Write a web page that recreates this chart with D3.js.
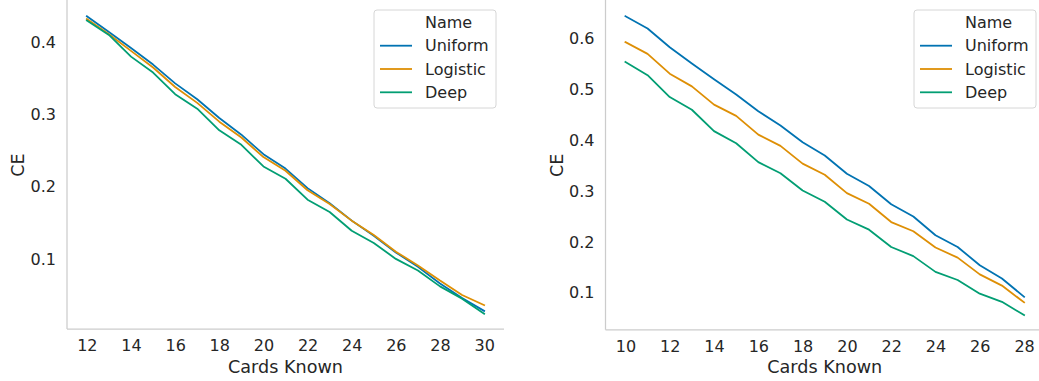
<!DOCTYPE html>
<html>
<head>
<meta charset="utf-8">
<script src="https://cdn.jsdelivr.net/npm/d3@7"></script>
<style>
  body { margin: 0; background: #fff; }
  text { font-family: "DejaVu Sans", sans-serif; fill: #262626; }
</style>
</head>
<body>
<svg id="chart" width="1039" height="381"></svg>
<script>
// --- data ---
const seriesNames = ["Uniform", "Logistic", "Deep"];
const colors = ["#0173b2", "#de8f05", "#029e73"];

// left panel
const leftCards = [12, 13, 14, 15, 16, 17, 18, 19, 20, 21, 22, 23, 24, 25, 26, 27, 28, 29, 30];
const leftUniform = [0.436, 0.414, 0.392, 0.369, 0.343, 0.321, 0.295, 0.272, 0.245, 0.225, 0.198, 0.177, 0.153, 0.132, 0.109, 0.089, 0.066, 0.046, 0.028];
const leftLogistic = [0.432, 0.411, 0.388, 0.365, 0.338, 0.316, 0.290, 0.268, 0.241, 0.222, 0.195, 0.176, 0.153, 0.133, 0.110, 0.091, 0.070, 0.050, 0.036];
const leftDeep = [0.430, 0.410, 0.380, 0.358, 0.328, 0.308, 0.278, 0.258, 0.228, 0.211, 0.182, 0.165, 0.139, 0.122, 0.100, 0.084, 0.062, 0.045, 0.024];
const leftXTicks = [12, 14, 16, 18, 20, 22, 24, 26, 28, 30];
const leftYTicks = [0.1, 0.2, 0.3, 0.4];

// right panel
const rightCards = [10, 11, 12, 13, 14, 15, 16, 17, 18, 19, 20, 21, 22, 23, 24, 25, 26, 27, 28];
const rightUniform = [0.644, 0.620, 0.583, 0.551, 0.520, 0.490, 0.457, 0.429, 0.396, 0.370, 0.334, 0.310, 0.274, 0.250, 0.213, 0.190, 0.154, 0.128, 0.092];
const rightLogistic = [0.593, 0.570, 0.531, 0.506, 0.470, 0.448, 0.411, 0.389, 0.354, 0.332, 0.296, 0.275, 0.239, 0.221, 0.189, 0.169, 0.136, 0.114, 0.081];
const rightDeep = [0.554, 0.528, 0.485, 0.460, 0.418, 0.394, 0.357, 0.335, 0.301, 0.279, 0.244, 0.224, 0.190, 0.172, 0.141, 0.125, 0.098, 0.082, 0.056];
const rightXTicks = [10, 12, 14, 16, 18, 20, 22, 24, 26, 28];
const rightYTicks = [0.1, 0.2, 0.3, 0.4, 0.5, 0.6];

const svg = d3.select("#chart");

function drawPanel(opts) {
  const { xs, series, xDomain, xRange, yDomain, yRange, xTicks, yTicks, legendX } = opts;
  const x = d3.scaleLinear().domain(xDomain).range(xRange);
  const y = d3.scaleLinear().domain(yDomain).range(yRange);
  const g = svg.append("g");

  // spines (left + bottom only)
  g.append("line")
    .attr("x1", xRange[0]).attr("x2", xRange[1])
    .attr("y1", yRange[0]).attr("y2", yRange[0])
    .attr("stroke", "#cccccc").attr("stroke-width", 1.25);
  g.append("line")
    .attr("x1", xRange[0]).attr("x2", xRange[0])
    .attr("y1", yRange[0]).attr("y2", yRange[1] - 2)
    .attr("stroke", "#cccccc").attr("stroke-width", 1.25);

  // x tick labels
  const xAxis = g.append("g")
    .attr("transform", `translate(0,${yRange[0]})`)
    .call(d3.axisBottom(x).tickValues(xTicks).tickSize(0).tickPadding(11).tickFormat(d3.format("d")));
  xAxis.select(".domain").remove();
  xAxis.selectAll("text").style("font-size", "16px").attr("fill", "#262626");

  // y tick labels
  const yAxis = g.append("g")
    .attr("transform", `translate(${xRange[0]},0)`)
    .call(d3.axisLeft(y).tickValues(yTicks).tickSize(0).tickPadding(11).tickFormat(d3.format(".1f")));
  yAxis.select(".domain").remove();
  yAxis.selectAll("text").style("font-size", "16px").attr("fill", "#262626");

  // axis titles
  g.append("text")
    .attr("x", (xRange[0] + xRange[1]) / 2)
    .attr("y", 373)
    .attr("text-anchor", "middle")
    .style("font-size", "17.6px")
    .text("Cards Known");
  g.append("text")
    .attr("transform", `translate(${xRange[0] - 43},${(yRange[0] + yRange[1]) / 2}) rotate(-90)`)
    .attr("text-anchor", "middle")
    .style("font-size", "17.6px")
    .text("CE");

  // lines
  const line = d3.line()
    .x((d, i) => x(xs[i]))
    .y(d => y(d));
  series.forEach((vals, i) => {
    g.append("path")
      .datum(vals)
      .attr("d", line)
      .attr("fill", "none")
      .attr("stroke", colors[i])
      .attr("stroke-width", 1.8)
      .attr("stroke-linejoin", "round")
      .attr("stroke-linecap", "square");
  });

  // legend
  const lg = g.append("g").attr("transform", `translate(${legendX},10)`);
  lg.append("rect")
    .attr("x", 0).attr("y", 0)
    .attr("width", 122).attr("height", 98)
    .attr("rx", 3)
    .attr("fill", "#fff").attr("fill-opacity", 0.8)
    .attr("stroke", "#d6d6d6").attr("stroke-width", 1);
  lg.append("text")
    .attr("x", 51).attr("y", 12.3)
    .attr("dy", "0.35em")
    .style("font-size", "16px")
    .text("Name");
  seriesNames.forEach((name, i) => {
    const cy = 35.7 + i * 23.3;
    lg.append("line")
      .attr("x1", 6).attr("x2", 38)
      .attr("y1", cy).attr("y2", cy)
      .attr("stroke", colors[i]).attr("stroke-width", 1.8);
    lg.append("text")
      .attr("x", 51).attr("y", cy)
      .attr("dy", "0.35em")
      .style("font-size", "16px")
      .text(name);
  });
}

drawPanel({
  xs: leftCards,
  series: [leftUniform, leftLogistic, leftDeep],
  xDomain: [11.1, 30.9], xRange: [67, 504],
  yDomain: [0.003, 0.457], yRange: [329, 1],
  xTicks: leftXTicks, yTicks: leftYTicks,
  legendX: 374
});

drawPanel({
  xs: rightCards,
  series: [rightUniform, rightLogistic, rightDeep],
  xDomain: [9.1, 28.9], xRange: [605.5, 1044],
  yDomain: [0.027, 0.674], yRange: [329.8, 1],
  xTicks: rightXTicks, yTicks: rightYTicks,
  legendX: 914
});
</script>
</body>
</html>
